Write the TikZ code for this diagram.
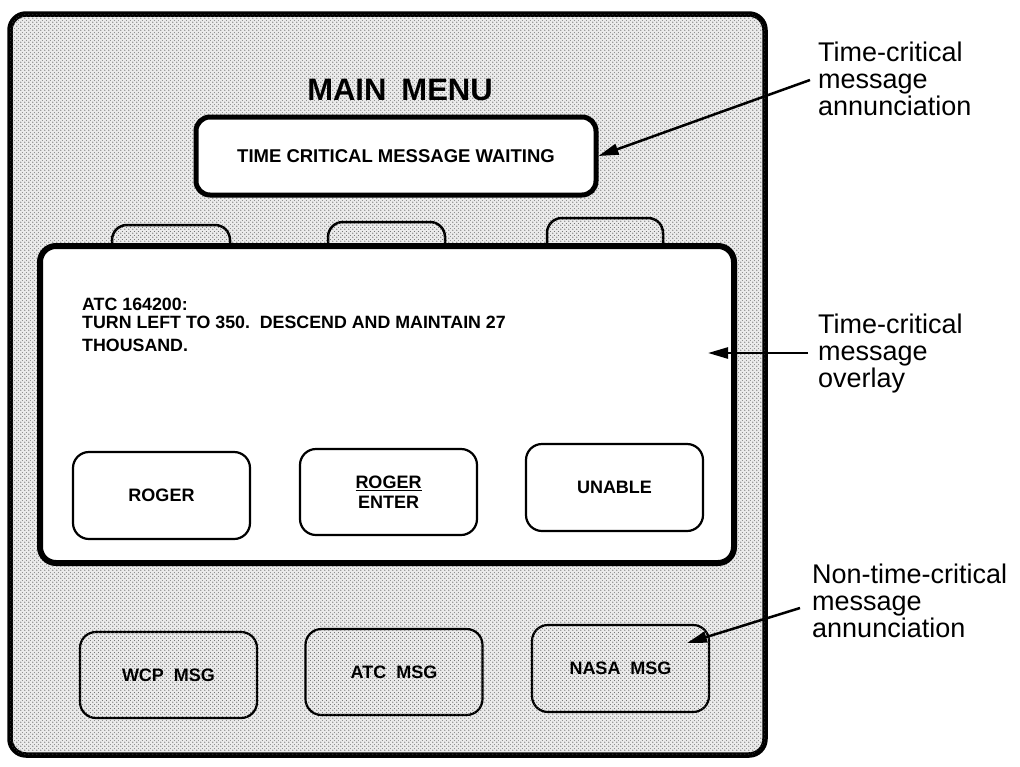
\documentclass[tikz,border=0pt]{standalone}
\usepackage{fontspec}
\setmainfont{Liberation Sans}
\usetikzlibrary{arrows.meta,patterns.meta}
\pgfdeclarepattern{
  name=scandots,
  type=uncolored,
  bottom left={\pgfpoint{0pt}{0pt}},
  top right={\pgfpoint{4pt}{4pt}},
  tile size={\pgfpoint{4pt}{4pt}},
  code={
    \pgfpathcircle{\pgfpoint{1pt}{1pt}}{0.75pt}
    \pgfpathcircle{\pgfpoint{3pt}{3pt}}{0.55pt}
    \pgfusepath{fill}
  }
}
\begin{document}
\begin{tikzpicture}[x=1pt,y=-1pt,
  shadefill/.style={fill=black!8, postaction={pattern=scandots, pattern color=black!70}},
  outerbox/.style={draw, line width=5.5pt, rounded corners=16pt, shadefill, inner sep=0pt},
  overlaybox/.style={draw, fill=white, line width=6pt, rounded corners=16pt, inner sep=0pt},
  tcbox/.style={draw, fill=white, line width=5pt, rounded corners=14pt, inner sep=0pt,
    font=\bfseries\fontsize{18.5}{20}\selectfont},
  btn/.style={draw, fill=white, line width=2.2pt, rounded corners=16pt, inner sep=0pt,
    minimum width=177pt, minimum height=87pt, align=center,
    font=\bfseries\fontsize{18}{20}\selectfont},
  gbtn/.style={btn, shadefill},
  tabshape/.style={draw, line width=2.5pt, rounded corners=15pt, shadefill},
  msgtext/.style={anchor=base west, inner sep=0pt, font=\bfseries\fontsize{17.8}{20}\selectfont},
  lbl/.style={font=\fontsize{27}{27}\selectfont, align=left, anchor=north west, inner sep=0pt},
  arr/.style={line width=2.5pt, -{Triangle[length=20pt,width=11pt]}}
]
\useasboundingbox (0,0) rectangle (1020,766);
\fill[white] (0,0) rectangle (1020,766);

% panel
\node[outerbox, minimum width=755pt, minimum height=741pt] (panel) at (387.5,384.5) {};
\node[anchor=base, inner sep=0pt, font=\bfseries\fontsize{31}{32}\selectfont] (title) at (400,100) {MAIN\hspace{15pt}MENU};
\node[tcbox, minimum width=400pt, minimum height=78pt] (tcm) at (396,156) {TIME CRITICAL MESSAGE WAITING};

% tabs behind overlay
\draw[tabshape] (112,262) -- (112,225) -- (230,225) -- (230,262);
\draw[tabshape] (328,262) -- (328,222) -- (445,222) -- (445,262);
\draw[tabshape] (547,262) -- (547,218) -- (663,218) -- (663,262);

% overlay
\node[overlaybox, minimum width=694pt, minimum height=317pt] (overlay) at (387,404.5) {};
\node[msgtext] (msg1) at (82,310) {ATC 164200:};
\node[msgtext] (msg2) at (82,328) {TURN LEFT TO 350.\ \ DESCEND AND MAINTAIN 27};
\node[msgtext] (msg3) at (82,351) {THOUSAND.};

\node[btn] (roger) at (161.5,495.5) {ROGER};
\node[btn, minimum height=86pt] (rogerenter) at (388.5,492) {\underline{ROGER}\\ENTER};
\node[btn] (unable) at (614.5,487.5) {UNABLE};

% bottom buttons
\node[gbtn, minimum height=86pt] (wcp) at (168.5,675) {WCP\ \ MSG};
\node[gbtn, minimum height=86pt] (atc) at (394,672) {ATC\ \ MSG};
\node[gbtn] (nasa) at (620.5,668.5) {NASA\ \ MSG};

% labels
\node[lbl] (l1) at (818,42) {Time-critical\\message\\annunciation};
\node[lbl] (l2) at (818,314) {Time-critical\\message\\overlay};
\node[lbl] (l3) at (812,564) {Non-time-critical\\message\\annunciation};

\coordinate (a1) at (810,80);
\coordinate (a2) at (808,353);
\coordinate (t2) at (708,353);
\coordinate (a3) at (800,608);
\coordinate (t3) at (687,643);
\draw[arr] (a1) -- (tcm.east);
\draw[arr] (a2) -- (t2);
\draw[arr] (a3) -- (t3);
\end{tikzpicture}
\end{document}
